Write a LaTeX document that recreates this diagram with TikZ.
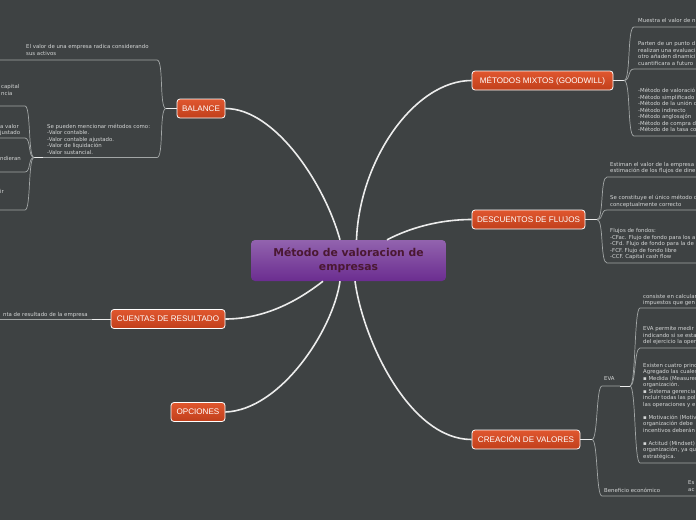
\documentclass[tikz,border=0pt]{standalone}
\usepackage{fontspec}
\setmainfont{DejaVu Sans}
\newfontfamily\topicfont{Liberation Sans}
\usepackage{tikz}
\usetikzlibrary{positioning}
\definecolor{canvas}{HTML}{3E4243}
\definecolor{hubtop}{HTML}{9263AE}
\definecolor{hubbot}{HTML}{6B2D90}
\definecolor{hubtext}{HTML}{4A1832}
\definecolor{topictop}{HTML}{E0572F}
\definecolor{topicbot}{HTML}{C13F1B}
\definecolor{limbwhite}{HTML}{ECECEC}
\definecolor{twiggray}{HTML}{A2A6A6}
\definecolor{notegray}{HTML}{D4D6D6}
\tikzset{
  hub/.style={rounded corners=4pt, top color=hubtop, bottom color=hubbot, minimum width=195pt, minimum height=41pt, inner sep=0pt, text=hubtext, align=center, font=\fontsize{10.8}{14}\selectfont\bfseries},
  topic/.style={draw=white, line width=0.8pt, rounded corners=3pt, top color=topictop, bottom color=topicbot, text=white, minimum height=19pt, inner sep=0pt, font=\topicfont\fontsize{8.1}{9}\selectfont},
  limb/.style={draw=limbwhite, line width=1.6pt},
  stem/.style={draw=white!80!twiggray, line width=0.9pt},
  twig/.style={draw=twiggray, line width=0.7pt},
  note/.style={anchor=north west, inner sep=0pt, align=left, text=notegray, font=\fontsize{5.4}{6.5}\selectfont},
}
\begin{document}
\begin{tikzpicture}[x=1pt, y=-1pt]
  \useasboundingbox (0,0) rectangle (696,520);
  \fill[canvas] (0,0) rectangle (696,520);
  \coordinate (west-edge) at (0,0);
  \coordinate (east-edge) at (696,0);

  % Central topic and main branches
  \node[hub] (hub) at (348.5,260.5) {Método de valoracion de\\empresas};
  \node[topic, minimum width=48pt] (balance) at (201,108.5) {BALANCE};
  \node[topic, minimum width=141pt] (mixtos) at (542.5,80.5) {MÉTODOS MIXTOS (GOODWILL)};
  \node[topic, minimum width=113pt] (flujos) at (528.5,219.5) {DESCUENTOS DE FLUJOS};
  \node[topic, minimum width=114pt] (cuentas) at (168,319) {CUENTAS DE RESULTADO};
  \node[topic, minimum width=54pt] (opciones) at (198,412) {OPCIONES};
  \node[topic, minimum width=108pt] (creacion) at (526,439.5) {CREACIÓN DE VALORES};

  \draw[limb] (balance.east) .. controls +(50,0) and +(-15,-55) .. ([xshift=-8.5pt]hub.north);
  \draw[limb] (mixtos.west) .. controls +(-57,0) and +(3,-80) .. ([xshift=8pt]hub.north);
  \draw[limb] (flujos.west) .. controls +(-32,0) and +(23,-12) .. ([xshift=38.5pt]hub.north);
  \draw[limb] (cuentas.east) .. controls +(45,0) and +(-18,14) .. ([xshift=-25.5pt]hub.south);
  \draw[limb] (opciones.east) .. controls +(55,-2) and +(-7,49) .. ([xshift=-8.5pt]hub.south);
  \draw[limb] (creacion.west) .. controls +(-62,0) and +(8,59) .. ([xshift=6.5pt]hub.south);

  % Balance
  \coordinate (bal-fork) at (166,108.5);
  \coordinate (bal-a) at (157,60);
  \coordinate (bal-b) at (157,157.5);
  \coordinate (bal-sub) at (34,157.5);
  \draw[stem] (balance.west) -- (bal-fork);
  \draw[twig] (bal-fork) .. controls +(-7,0) and +(7,0) .. (bal-a) -- (bal-a -| west-edge);
  \draw[twig] (bal-fork) .. controls +(-7,0) and +(7,0) .. (bal-b) -- (43,157.5);
  \draw[stem] (43,157.5) -- (bal-sub);
  \foreach \y in {106,138,172,210}
    \draw[twig] (bal-sub) .. controls +(-6,0) and +(6,0) .. (25,\y) -- (0,\y);
  \node[note] (bal-a-txt) at (26,44.4) {El valor de una empresa radica considerando\\sus activos};
  \node[note] (bal-b-txt) at (47,123.7) {Se pueden mencionar métodos como:\\-Valor contable.\\-Valor contable ajustado.\\-Valor de liquidación\\-Valor sustancial.};
  \node[note] (bal-c-txt) at (1,84.4) {capital\\ncia};
  \node[note] (bal-d-txt) at (0,123.7) {a valor\\justado};
  \node[note] (bal-e-txt) at (0,156) {ndieran};
  \node[note] (bal-f-txt) at (0,189.4) {ir};

  % Metodos mixtos
  \coordinate (mix-fork) at (624,80.5);
  \draw[stem] (mixtos.east) -- (mix-fork);
  \foreach \y in {27,69,136}
    \draw[twig] (mix-fork) .. controls +(7,0) and +(-7,0) .. (634,\y) -- (696,\y);
  \node[note] (mix-a-txt) at (638,18.4) {Muestra el valor de n};
  \node[note] (mix-b-txt) at (638,41.4) {Parten de un punto d\\realizan una evaluaci\\otro añaden dinamici\\cuantificara a futuro};
  \node[note] (mix-c-txt) at (638,88) {-Método de valoració\\-Método simplificado\\-Método de la unión d\\-Método indirecto\\-Método anglosajón\\-Método de compra d\\-Método de la tasa co};

  % Descuentos de flujos
  \coordinate (flu-fork) at (597,219.5);
  \draw[stem] (flujos.east) -- (flu-fork);
  \foreach \y in {177,210,263}
    \draw[twig] (flu-fork) .. controls +(7,0) and +(-7,0) .. (607,\y) -- (696,\y);
  \node[note] (flu-a-txt) at (610,161.7) {Estiman el valor de la empresa\\estimación de los flujos de dine};
  \node[note] (flu-b-txt) at (610,195.4) {Se constituye el único método d\\conceptualmente correcto};
  \node[note] (flu-c-txt) at (610,228.4) {Flujos de fondos:\\-CFac. Flujo de fondo para los a\\-CFd. Flujo de fondo para la de\\-FCF. Flujo de fondo libre\\-CCF. Capital cash flow};

  % Cuentas de resultado
  \coordinate (cue-end) at (92,319);
  \draw[stem] (cuentas.west) -- (cue-end);
  \draw[twig] (cue-end) -- (cue-end -| west-edge);
  \node[note, anchor=north east] (cue-a-txt) at (88,311.7) {nta de resultado de la empresa};

  % Creacion de valores
  \coordinate (cre-fork) at (592,439.5);
  \coordinate (cre-a) at (602,386);
  \coordinate (cre-b) at (602,496);
  \coordinate (eva-fork) at (630,386);
  \draw[stem] (creacion.east) -- (cre-fork);
  \draw[twig] (cre-fork) .. controls +(6,0) and +(-6,0) .. (cre-a) -- (620,386);
  \draw[stem] (620,386) -- (eva-fork);
  \draw[twig] (cre-fork) .. controls +(6,0) and +(-6,0) .. (cre-b) -- (cre-b -| east-edge);
  \foreach \y in {308,348,463}
    \draw[twig] (eva-fork) .. controls +(6,0) and +(-6,0) .. (640,\y) -- (696,\y);
  \node[note] (cre-a-txt) at (604,376.7) {EVA};
  \node[note] (cre-b-txt) at (604,487.7) {Beneficio económico};
  \node[note] (cre-c-txt) at (688,480.7) {Es\\ac};
  \node[note] (eva-a-txt) at (643,293.7) {consiste en calcular\\impuestos que gen};
  \node[note] (eva-b-txt) at (643,326.4) {EVA permite medir\\indicando si se esta\\del ejercicio la oper};
  \node[note] (eva-c-txt) at (643,362.7) {Existen cuatro princ\\Agregado las cuales\\▪ Medida (Measurem\\organización.\\▪ Sistema gerencia\\incluir todas las pol\\las operaciones y e\\[6.5pt]▪ Motivación (Motiv\\organización debe\\incentivos deberán\\[6.5pt]▪ Actitud (Mindset)\\organización, ya qu\\estratégica.};
\end{tikzpicture}
\end{document}
